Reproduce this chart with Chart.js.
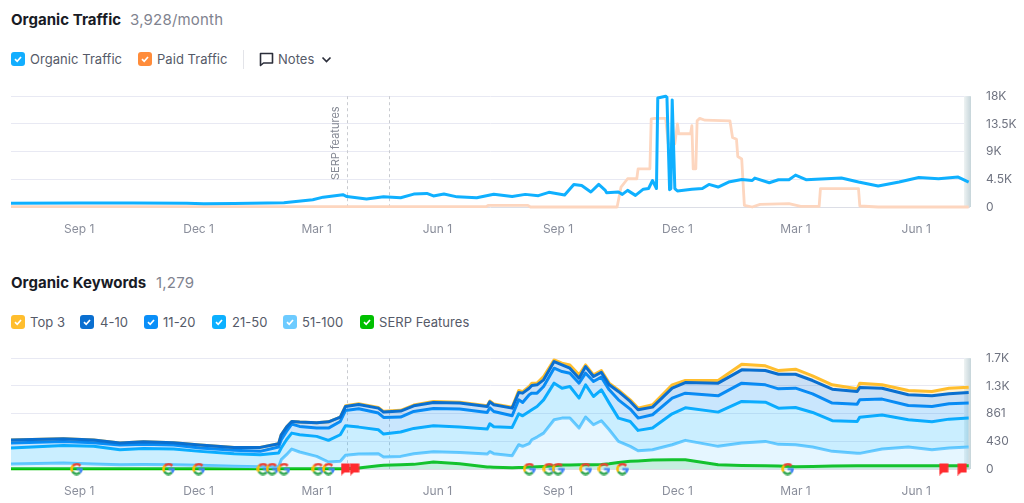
<!DOCTYPE html>
<html>
<head>
<meta charset="utf-8">
<title>Organic Traffic</title>
<script src="https://cdn.jsdelivr.net/npm/chart.js@4"></script>
<style>
    html, body { margin: 0; padding: 0; background: #fff; width: 1024px; height: 503px; overflow: hidden; }
    body { position: relative; font-family: Inter, "Noto Sans", sans-serif; color: #555a68; }
    .abs { position: absolute; white-space: nowrap; }
    .title { font-size: 15px; font-weight: 700; color: #181b25; line-height: 20px; letter-spacing: 0.05px; }
    .sub { font-size: 15px; color: #7f838f; line-height: 20px; letter-spacing: 0.2px; }
    .lab { font-size: 13px; line-height: 16px; color: #555a68; letter-spacing: 0.05px; }
    .box { position: absolute; width: 14px; height: 14px; border-radius: 3px; }
    .box svg { display: block; }
    canvas { position: absolute; left: 0; }
</style>
</head>
<body>
<div class="abs title" style="left:11px;top:10px">Organic Traffic</div>
<div class="abs sub" style="left:130px;top:10px">3,928/month</div>
<div id="legendTraffic"></div>
<div class="abs" style="left:243px;top:50px;width:1px;height:19px;background:#e3e4e9"></div>
<svg class="abs" style="left:259px;top:52px" width="15" height="15" viewBox="0 0 15 15">
    <path d="M1.5 1.5h12v9.5h-9l-3 2.5z" fill="none" stroke="#2b2e3a" stroke-width="1.6" stroke-linejoin="round"/>
</svg>
<div class="abs lab" style="left:278px;top:51px">Notes</div>
<svg class="abs" style="left:321px;top:56px" width="11" height="8" viewBox="0 0 11 8">
    <path d="M1.5 1.5l4 4 4-4" fill="none" stroke="#2b2e3a" stroke-width="1.7"/>
</svg>
<canvas id="trafficChart" style="top:89px" width="1024" height="151"></canvas>

<div class="abs title" style="left:11px;top:273px">Organic Keywords</div>
<div class="abs sub" style="left:156px;top:273px">1,279</div>
<div id="legendKeywords"></div>
<canvas id="keywordChart" style="top:351px" width="1024" height="151"></canvas>

<script>
// x values are days counted from the first Sep 1
const tickDays = [0, 91, 181, 273, 365, 456, 546, 638];
const tickLabels = ["Sep 1", "Dec 1", "Mar 1", "Jun 1", "Sep 1", "Dec 1", "Mar 1", "Jun 1"];
const noteDays = [204, 236];

const trafficTicks = [0, 4500, 9000, 13500, 18000];
const trafficTickLabels = ["0", "4.5K", "9K", "13.5K", "18K"];
const keywordTicks = [0, 430, 861, 1291, 1722];
const keywordTickLabels = ["0", "430", "861", "1.3K", "1.7K"];

const organicDays = [-52, 0, 41, 82, 95, 118, 156, 178, 186, 201, 204, 219, 232, 245, 255, 265, 270, 278, 288, 303, 316, 330, 340, 350, 358, 370, 377, 383, 390, 396, 401, 402, 411, 414, 418, 424, 430, 434, 437, 440, 441, 447, 448, 450, 451, 452, 454, 456, 467, 475, 480, 487, 495, 505, 513, 515, 526, 533, 541, 546, 554, 581, 594, 609, 625, 640, 655, 670, 678];
const organicValues = [600, 650, 640, 600, 520, 560, 700, 1190, 1600, 2000, 1700, 1300, 1670, 1500, 2100, 2200, 1800, 2100, 1650, 1500, 2080, 1700, 2050, 1840, 2380, 1950, 3670, 3500, 2430, 3670, 2700, 2300, 2430, 2050, 2700, 1890, 2900, 3000, 4300, 3000, 17700, 18000, 17800, 2800, 3000, 17400, 3000, 2600, 2900, 3000, 3670, 3240, 4050, 4480, 4300, 4700, 3940, 4430, 4430, 5180, 4430, 4700, 4050, 3400, 4050, 4800, 4600, 4860, 4050];

const paidDays = [-52, 310, 312, 342, 344, 410, 413, 418, 425, 426, 435, 436, 439, 447, 449, 454, 456, 457, 466, 467, 468, 470, 471, 473, 477, 496, 498, 501, 502, 505, 507, 513, 519, 541, 550, 564, 565, 594, 595, 609, 678];
const paidValues = [50, 50, 280, 270, 0, 0, 3240, 4590, 4590, 6200, 6200, 14300, 14400, 14400, 10260, 10260, 13500, 11900, 11900, 13200, 6200, 6200, 14000, 14400, 14100, 14000, 11300, 11000, 8200, 7800, 270, 0, 430, 540, 100, 100, 2970, 2970, 160, 0, 0];

const keywordDays = [-52, -12, 11, 31, 49, 72, 92, 118, 138, 152, 154, 158, 162, 168, 181, 190, 199, 203, 213, 228, 232, 245, 255, 270, 290, 311, 313, 316, 330, 335, 338, 343, 345, 349, 354, 362, 368, 374, 381, 386, 392, 398, 404, 411, 420, 426, 437, 452, 462, 487, 505, 523, 533, 546, 559, 574, 593, 595, 612, 632, 650, 663, 678];
const top3Values = [450, 470, 450, 403, 424, 408, 372, 336, 336, 393, 532, 651, 739, 729, 719, 734, 806, 982, 1015, 958, 896, 912, 994, 1048, 1038, 983, 1056, 1010, 960, 1220, 1200, 1282, 1334, 1334, 1437, 1696, 1644, 1618, 1463, 1618, 1463, 1530, 1334, 1230, 1075, 946, 998, 1308, 1375, 1375, 1629, 1603, 1530, 1551, 1448, 1308, 1246, 1334, 1308, 1220, 1205, 1256, 1272];
const top10Values = [450, 470, 450, 403, 424, 408, 372, 336, 336, 393, 532, 651, 739, 729, 719, 734, 806, 972, 1003, 946, 884, 900, 982, 1034, 1024, 972, 1044, 998, 946, 1189, 1179, 1256, 1298, 1308, 1386, 1670, 1618, 1567, 1411, 1592, 1437, 1504, 1308, 1205, 1050, 920, 962, 1256, 1344, 1334, 1541, 1530, 1473, 1473, 1375, 1241, 1205, 1267, 1256, 1153, 1137, 1168, 1189];
const top20Values = [403, 429, 408, 372, 385, 372, 326, 290, 274, 341, 455, 584, 698, 662, 636, 636, 739, 910, 936, 869, 801, 807, 894, 941, 931, 879, 951, 894, 827, 1075, 1034, 1153, 1179, 1179, 1282, 1567, 1515, 1489, 1334, 1489, 1360, 1427, 1230, 1075, 931, 791, 843, 1101, 1179, 1137, 1334, 1308, 1246, 1256, 1168, 1024, 1008, 1075, 1086, 987, 972, 1013, 1024];
const top50Values = [326, 367, 352, 300, 320, 310, 274, 238, 222, 248, 326, 455, 558, 532, 507, 445, 532, 672, 651, 610, 543, 574, 631, 672, 651, 620, 703, 657, 646, 858, 827, 894, 920, 972, 1075, 1334, 1256, 1282, 1101, 1308, 1127, 1230, 1024, 791, 739, 600, 636, 858, 951, 884, 1050, 1039, 946, 956, 879, 750, 739, 806, 838, 765, 734, 775, 791];
const top100Values = [78, 93, 78, 67, 70, 67, 57, 41, 36, 36, 145, 222, 310, 264, 196, 109, 119, 212, 233, 238, 186, 196, 238, 269, 258, 233, 269, 238, 207, 377, 352, 393, 455, 496, 558, 765, 791, 791, 636, 807, 688, 750, 610, 429, 352, 284, 300, 377, 445, 352, 403, 429, 383, 377, 341, 274, 243, 243, 310, 341, 300, 326, 341];
const serpValues = [5, 5, 5, 5, 5, 5, 5, 5, 5, 5, 5, 5, 5, 5, 5, 5, 5, 5, 15, 50, 57, 67, 72, 109, 83, 31, 31, 28, 20, 25, 25, 31, 33, 36, 40, 50, 62, 63, 65, 66, 67, 70, 80, 100, 119, 125, 140, 145, 145, 67, 55, 50, 47, 36, 40, 45, 52, 52, 52, 52, 50, 50, 52];

const googleDays = [-2, 68, 91, 140, 147, 156, 182, 190, 343, 358, 365, 386, 400, 414, 540];
const flagDays = [203, 210, 659, 673];

const trafficLegend = [["Organic Traffic", "#12aeff", 11, 30], ["Paid Traffic", "#ff8c3a", 138, 157]];
const keywordLegend = [
    ["Top 3", "#ffbe2e", 11, 30],
    ["4-10", "#0a6fd0", 80, 100],
    ["11-20", "#0a8ff8", 144, 163],
    ["21-50", "#0cb0ff", 212, 232],
    ["51-100", "#6dcbff", 283, 302],
    ["SERP Features", "#00c000", 360, 379],
];

function addLegend(id, items, top) {
    let html = "";
    items.forEach(function (item) {
        html += '<div class="box" style="left:' + item[2] + "px;top:" + top + "px;background:" + item[1] + '">' +
            '<svg width="14" height="14" viewBox="0 0 14 14"><path d="M4 7.2l2.2 2.1L10 5" fill="none" stroke="#fff" stroke-width="1.7"/></svg></div>' +
            '<div class="abs lab" style="left:' + item[3] + "px;top:" + (top - 1) + 'px">' + item[0] + "</div>";
    });
    document.getElementById(id).innerHTML = html;
}
addLegend("legendTraffic", trafficLegend, 52);
addLegend("legendKeywords", keywordLegend, 315);

function toPoints(days, values) {
    return days.map(function (d, i) { return { x: d, y: values[i] }; });
}

// small google "G" used as a point style
function makeGoogleIcon() {
    const c = document.createElement("canvas");
    c.width = 13;
    c.height = 13;
    const g = c.getContext("2d");
    g.lineWidth = 2.5;
    const arcs = [["#ea4335", -2.5, -0.7], ["#fbbc05", 2.6, 3.9], ["#34a853", 0.8, 2.6], ["#4285f4", -0.05, 0.8]];
    arcs.forEach(function (a) {
        g.strokeStyle = a[0];
        g.beginPath();
        g.arc(6.5, 6.5, 4.9, a[1], a[2]);
        g.stroke();
    });
    g.fillStyle = "#4285f4";
    g.fillRect(6.5, 5.5, 6, 2.2);
    return c;
}

function makeFlagIcon() {
    const c = document.createElement("canvas");
    c.width = 10;
    c.height = 13;
    const g = c.getContext("2d");
    g.fillStyle = "#ff2a2e";
    g.beginPath();
    g.moveTo(0.5, 1);
    g.lineTo(9.5, 1);
    g.lineTo(9.5, 10);
    g.lineTo(4, 10);
    g.lineTo(0.5, 13);
    g.closePath();
    g.fill();
    return c;
}

// dashed note lines and the grey strip at the right edge
const decorPlugin = {
    id: "decor",
    beforeDatasetsDraw(chart, args, opts) {
        const ctx = chart.ctx;
        const area = chart.chartArea;
        const x = chart.scales.x;
        ctx.save();
        const grad = ctx.createLinearGradient(area.right - 6, 0, area.right + 1, 0);
        grad.addColorStop(0, "#eef3f3");
        grad.addColorStop(1, "#c6d5da");
        ctx.fillStyle = grad;
        ctx.fillRect(area.right - 6, area.top, 7, area.bottom - area.top);
        ctx.strokeStyle = "#c9cbd0";
        ctx.lineWidth = 1;
        ctx.setLineDash([3, 3]);
        noteDays.forEach(function (d) {
            const px = Math.round(x.getPixelForValue(d)) + 0.5;
            ctx.beginPath();
            ctx.moveTo(px, area.top);
            ctx.lineTo(px, area.bottom);
            ctx.stroke();
        });
        ctx.restore();
    },
    afterDatasetsDraw(chart, args, opts) {
        if (!opts.noteText) return;
        const ctx = chart.ctx;
        const area = chart.chartArea;
        const px = chart.scales.x.getPixelForValue(noteDays[0]);
        ctx.save();
        ctx.translate(px - 11, area.top + 47);
        ctx.rotate(-Math.PI / 2);
        ctx.font = '11px Inter, "Noto Sans", sans-serif';
        ctx.fillStyle = "#858994";
        ctx.textAlign = "center";
        ctx.textBaseline = "middle";
        ctx.fillText(opts.noteText, 0, 0);
        ctx.restore();
    },
};

function baseOptions(yTicks, yLabels, yMax, noteText) {
    return {
        responsive: false,
        animation: false,
        layout: { padding: { left: 11, top: 0, right: 0, bottom: 0 } },
        plugins: { legend: { display: false }, tooltip: { enabled: false }, decor: { noteText: noteText } },
        elements: { point: { radius: 0 }, line: { tension: 0, borderJoinStyle: "round" } },
        scales: {
            x: {
                type: "linear",
                min: -52,
                max: 679,
                grid: { display: false },
                border: { display: false },
                afterFit(axis) { axis.height = 33; },
                afterBuildTicks(axis) { axis.ticks = tickDays.map(function (v) { return { value: v }; }); },
                ticks: {
                    autoSkip: false,
                    maxRotation: 0,
                    padding: 7,
                    color: "#8a8e9b",
                    font: { family: "Inter", size: 12 },
                    callback(v) { return tickLabels[tickDays.indexOf(v)]; },
                },
            },
            y: {
                position: "right",
                min: 0,
                max: yMax,
                border: { display: false },
                grid: {
                    tickLength: 16,
                    tickColor: "rgba(0,0,0,0)",
                    lineWidth: 1,
                    color(c) { return c.tick.value === 0 ? "#dcdee6" : "#e8e9f3"; },
                },
                afterFit(axis) { axis.width = 54; },
                afterBuildTicks(axis) { axis.ticks = yTicks.map(function (v) { return { value: v }; }); },
                ticks: {
                    padding: 0,
                    color: "#6f7380",
                    font: { family: "Inter", size: 12 },
                    callback(v) { return yLabels[yTicks.indexOf(v)]; },
                },
            },
        },
    };
}

new Chart(document.getElementById("trafficChart").getContext("2d"), {
    type: "line",
    plugins: [decorPlugin],
    data: {
        datasets: [
            { label: "Organic Traffic", data: toPoints(organicDays, organicValues), borderColor: "#0fb0ff", borderWidth: 3, clip: false },
            { label: "Paid Traffic", data: toPoints(paidDays, paidValues), borderColor: "#fdd6bf", borderWidth: 2.8, clip: false },
        ],
    },
    options: baseOptions(trafficTicks, trafficTickLabels, 18000, "SERP features"),
});

// first dataset is drawn on top, so the icons come first and Top 3 last; Top 3 fills down to dataset 2 (4-10)
new Chart(document.getElementById("keywordChart").getContext("2d"), {
    type: "line",
    plugins: [decorPlugin],
    data: {
        datasets: [
            { label: "Google", data: toPoints(googleDays, googleDays.map(function () { return 0; })), showLine: false, clip: false, pointRadius: 6, pointStyle: makeGoogleIcon() },
            { label: "Flags", data: toPoints(flagDays, flagDays.map(function () { return 0; })), showLine: false, clip: false, pointRadius: 6, pointStyle: makeFlagIcon() },
            { label: "4-10", data: toPoints(keywordDays, top10Values), borderColor: "#0a6fd0", borderWidth: 3, fill: "+1", backgroundColor: "rgba(10,111,208,0.22)" },
            { label: "11-20", data: toPoints(keywordDays, top20Values), borderColor: "#0a8ff8", borderWidth: 3, fill: "+1", backgroundColor: "rgba(10,143,248,0.22)" },
            { label: "21-50", data: toPoints(keywordDays, top50Values), borderColor: "#0cb0ff", borderWidth: 3, fill: "+1", backgroundColor: "rgba(12,176,255,0.22)" },
            { label: "51-100", data: toPoints(keywordDays, top100Values), borderColor: "#6dcbff", borderWidth: 3, fill: "origin", backgroundColor: "rgba(109,203,255,0.18)" },
            { label: "SERP Features", data: toPoints(keywordDays, serpValues), borderColor: "#00c000", borderWidth: 3, fill: "origin", backgroundColor: "rgba(0,192,0,0.15)", clip: false },
            { label: "Top 3", data: toPoints(keywordDays, top3Values), borderColor: "#ffbe2e", borderWidth: 3, fill: 2, backgroundColor: "rgba(255,190,46,0.2)" },
        ],
    },
    options: baseOptions(keywordTicks, keywordTickLabels, 1722),
});
</script>
</body>
</html>
